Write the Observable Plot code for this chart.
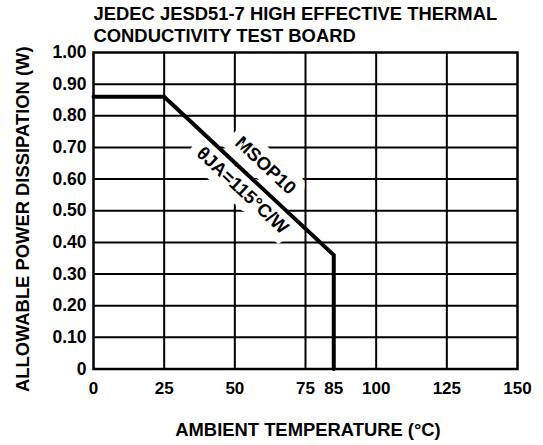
<!DOCTYPE html>
<html>
<head>
<meta charset="utf-8">
<script src="https://cdn.jsdelivr.net/npm/d3@7"></script>
<script src="https://cdn.jsdelivr.net/npm/@observablehq/plot@0.6"></script>
<style>
  html, body { margin: 0; padding: 0; background: #fff; }
  svg { display: block; }
</style>
</head>
<body>
<div id="chart"></div>
<script>
// Data
const temps = [0, 25, 85, 85];
const power = [0.86, 0.86, 0.36, 0];

const xTicks = [0, 25, 50, 75, 85, 100, 125, 150];
const xGrid = [25, 50, 75, 100, 125];
const yTicks = [0, 0.1, 0.2, 0.3, 0.4, 0.5, 0.6, 0.7, 0.8, 0.9, 1.0];

const titleLines = ["JEDEC JESD51-7 HIGH EFFECTIVE THERMAL", "CONDUCTIVITY TEST BOARD"];
const xLabel = "AMBIENT TEMPERATURE (°C)";
const yLabel = "ALLOWABLE POWER DISSIPATION (W)";

const annLabels = ["MSOP10", "θJA=115°C/W"];
const annX = [60.85, 52.7];
const annY = [0.643, 0.564];

const curve = temps.map((t, i) => ({t, p: power[i]}));
const ann = annLabels.map((s, i) => ({s, x: annX[i], y: annY[i]}));

const font = "'Liberation Sans', Arial, Helvetica, sans-serif";

const chart = Plot.plot({
  width: 543,
  height: 445,
  marginLeft: 93,
  marginRight: 26,
  marginTop: 52,
  marginBottom: 76.5,
  style: {fontFamily: font, fontWeight: "bold", fontSize: "17px", color: "#000", background: "#fff", overflow: "visible"},
  x: {domain: [0, 150]},
  y: {domain: [0, 1]},
  marks: [
    Plot.ruleX(xGrid, {stroke: "#000", strokeWidth: 2}),
    Plot.ruleY(yTicks.slice(1, -1), {stroke: "#000", strokeWidth: 2}),
    Plot.text(ann, {x: "x", y: "y", text: "s", rotate: 43, fontSize: 18.5, fontWeight: "bold",
      fill: "#000", stroke: "#fff", strokeWidth: 18, strokeLinejoin: "miter"}),
    Plot.frame({stroke: "#000", strokeWidth: 2.5}),
    Plot.line(curve, {x: "t", y: "p", stroke: "#000", strokeWidth: 4, strokeLinejoin: "miter", strokeMiterlimit: 10}),
    Plot.axisX(xTicks, {tickSize: 0, tickPadding: 13, fontSize: 17, fontWeight: "bold", label: null}),
    Plot.axisY(yTicks, {tickSize: 0, tickPadding: 7, fontSize: 17.5, fontWeight: "bold",
      tickFormat: d => d === 0 ? "0" : d.toFixed(2), label: null}),
    // axis titles
    Plot.text([xLabel], {frameAnchor: "bottom", dx: 2.5, dy: 53.5, lineAnchor: "top", textAnchor: "middle",
      fontSize: 18.4, fontWeight: "bold", fill: "#000"}),
    Plot.text([yLabel], {frameAnchor: "left", dx: -78, dy: 8.5, lineAnchor: "top", textAnchor: "middle", rotate: -90,
      fontSize: 18.4, fontWeight: "bold", fill: "#000"}),
    // title
    Plot.text([titleLines.join("\n")], {frameAnchor: "top-left", dx: 0, dy: -48, lineAnchor: "top",
      textAnchor: "start", fontSize: 18.4, fontWeight: "bold", lineHeight: 1.2, fill: "#000"})
  ]
});
chart.querySelectorAll("text").forEach(t => t.setAttribute("font-weight", "bold"));
document.getElementById("chart").appendChild(chart);
</script>
</body>
</html>
